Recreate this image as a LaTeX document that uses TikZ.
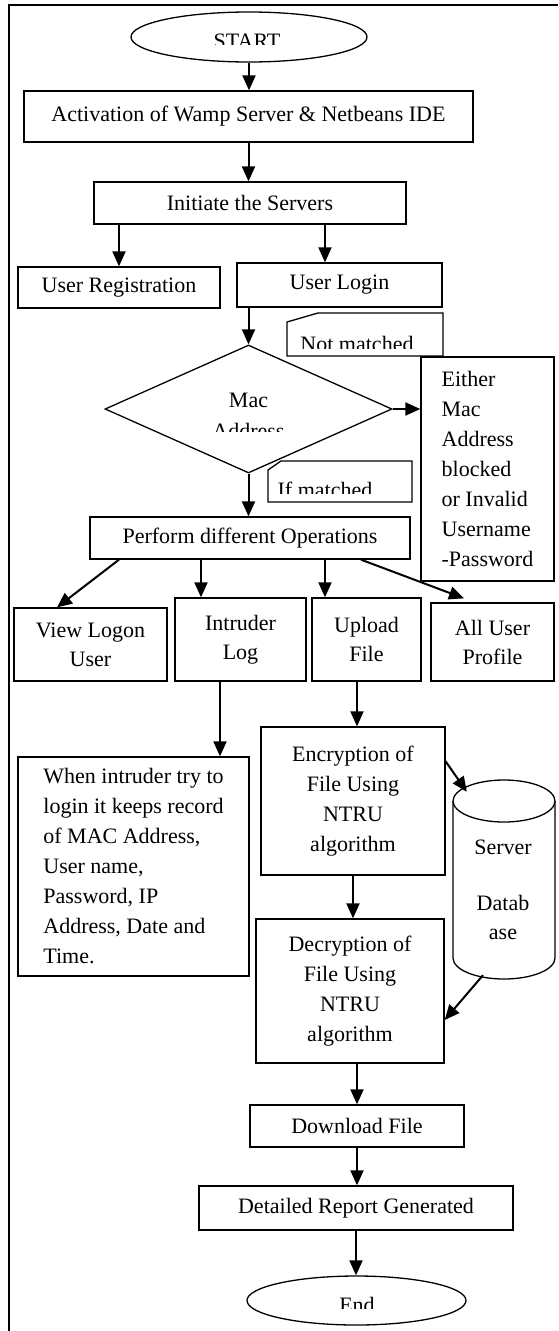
\documentclass[tikz,border=0pt]{standalone}
\usepackage{fontspec}
\setmainfont{Liberation Serif}
\usetikzlibrary{shapes.geometric,arrows.meta,calc}
\begin{document}
\begin{tikzpicture}[x=1pt,y=-1pt,
  every node/.style={font=\fontsize{22pt}{30pt}\selectfont},
  box/.style={draw, line width=1.3pt, inner sep=0pt, align=center},
  ell/.style={draw, ellipse, line width=1.3pt, inner sep=0pt},
  shp/.style={line width=1.3pt},
  arr/.style={line width=2pt, -{Triangle[length=15pt,width=13pt]}},
  lab/.style={inner sep=0pt, anchor=base},
  frame/.style={line width=2pt}
]
\useasboundingbox (0,0) rectangle (558,1331);
% frame
\draw[frame] (9,1331) -- (9,5) -- (558,5);

% start
\node[ell, minimum width=236pt, minimum height=50pt] (start) at (249,37) {};
\begin{scope}
  \clip (120,10) rectangle (380,44);
  \node[lab] (starttxt) at (247,48.6) {START};
\end{scope}

\node[box, minimum width=449pt, minimum height=51pt] (act) at (248.5,116.5) {Activation of Wamp Server \& Netbeans IDE};
\node[box, minimum width=312pt, minimum height=42pt] (init) at (250,203) {Initiate the Servers};
\node[box, minimum width=202pt, minimum height=41pt] (reg) at (119,287.5) {User Registration};
\node[box, minimum width=205pt, minimum height=44pt] (login) at (339.5,285) {User Login};

% not matched label
\draw[shp] (287,322) -- (318,313) -- (443,313) -- (443,356) -- (287,356) -- cycle;
\begin{scope}
  \clip (290,320) rectangle (440,348);
  \node[lab] (notm) at (357,351.6) {Not matched};
\end{scope}

% diamond
\node[draw, diamond, line width=1.3pt, inner sep=0pt, minimum width=287pt, minimum height=128pt] (dia) at (248.5,409) {};
\begin{scope}
  \clip (150,380) rectangle (350,431);
  \node[lab] (mac) at (248.5,407.6) {Mac};
  \node[lab] (addr) at (248.5,438.6) {Address};
\end{scope}

\node[box, align=left, minimum width=133pt, minimum height=224pt] (either) at (487.5,469)
  {Either\\Mac\\Address\\blocked\\or Invalid\\Username\\-Password};

% if matched label
\draw[shp] (268,470) -- (281,461) -- (412,461) -- (412,502) -- (268,502) -- cycle;
\begin{scope}
  \clip (270,465) rectangle (410,493);
  \node[lab] (ifm) at (325,497.6) {If matched};
\end{scope}

\node[box, minimum width=320pt, minimum height=42pt] (perf) at (250,538) {Perform different Operations};

\node[box, minimum width=153pt, minimum height=73pt, font=\fontsize{22pt}{29pt}\selectfont] (view) at (90.5,644.5) {View Logon\\User};
\node[box, minimum width=131pt, minimum height=83pt, font=\fontsize{22pt}{29pt}\selectfont] (intr) at (240.5,639.5) {Intruder\\Log};
\node[box, minimum width=109pt, minimum height=83pt, font=\fontsize{22pt}{29pt}\selectfont] (upl) at (366.5,639.5) {Upload\\File};
\node[box, minimum width=123pt, minimum height=78pt, font=\fontsize{22pt}{29pt}\selectfont] (allu) at (492.5,642) {All User\\Profile};

\node[box, align=left, minimum width=231pt, minimum height=219pt] (desc) at (133.5,866.5)
  {When intruder try to\\login it keeps record\\of MAC Address,\\User name,\\Password, IP\\Address, Date and\\Time.};

\node[box, minimum width=184pt, minimum height=148pt] (enc) at (353,801) {Encryption of\\File Using\\NTRU\\algorithm};

% database cylinder
\node[inner sep=0pt, minimum width=102pt, minimum height=199pt] (db) at (504,879.5) {};
\draw[shp] (504,801) ellipse [x radius=51, y radius=21];
\draw[shp] (453,801) -- (453,958) arc[start angle=180, end angle=0, x radius=51, y radius=21] -- (555,801);
\node[inner sep=0pt, align=center, font=\fontsize{22pt}{29pt}\selectfont] (dbtxt) at (503,890) {Server\\[27pt]Datab\\ase};

\node[box, minimum width=188pt, minimum height=144pt] (dec) at (350,991) {Decryption of\\File Using\\NTRU\\algorithm};
\node[box, minimum width=214pt, minimum height=42pt] (down) at (357,1126) {Download File};
\node[box, minimum width=314pt, minimum height=44pt] (det) at (356,1208) {Detailed Report Generated};

% end
\node[ell, minimum width=219pt, minimum height=49pt] (endn) at (356.5,1300.5) {};
\begin{scope}
  \clip (260,1280) rectangle (450,1308);
  \node[lab] (endtxt) at (357,1312.6) {End};
\end{scope}

% connectors
\draw[arr] (start.south) -- (start.south |- act.north);
\draw[arr] (act.south) -- (act.south |- init.north);
\draw[arr] (reg.north |- init.south) -- (reg.north);
\draw[arr] ([xshift=-14.5pt]login.north |- init.south) -- ([xshift=-14.5pt]login.north);
\draw[arr] (dia.north |- login.south) -- (dia.north);
\draw[arr] (dia.east) -- (dia.east -| either.west);
\draw[arr] (dia.south) -- (dia.south |- perf.north);
\draw[arr] ([xshift=-131pt]perf.south) -- ([xshift=-33.5pt]view.north);
\draw[arr] ([xshift=-39.5pt]intr.north |- perf.south) -- ([xshift=-39.5pt]intr.north);
\draw[arr] ([xshift=-41.5pt]upl.north |- perf.south) -- ([xshift=-41.5pt]upl.north);
\draw[arr] ([xshift=111pt]perf.south) -- ([xshift=-28.5pt,yshift=4pt]allu.north);
\draw[arr] ([xshift=-20.5pt]intr.south) -- ([xshift=-20.5pt]intr.south |- desc.north);
\draw[arr] ([xshift=-9.5pt]upl.south) -- ([xshift=-9.5pt]upl.south |- enc.north);
\draw[arr] ([yshift=-35pt]enc.north east) -- ([xshift=14pt,yshift=-12pt]db.north west);
\draw[arr] (enc.south) -- (enc.south |- dec.north);
\draw[arr] ([xshift=-21pt,yshift=4pt]db.south) -- ([yshift=-29pt]dec.east);
\draw[arr] (down.north |- dec.south) -- (down.north);
\draw[arr] (down.south) -- (down.south |- det.north);
\draw[arr] (det.south) -- (det.south |- endn.north);
\end{tikzpicture}
\end{document}
